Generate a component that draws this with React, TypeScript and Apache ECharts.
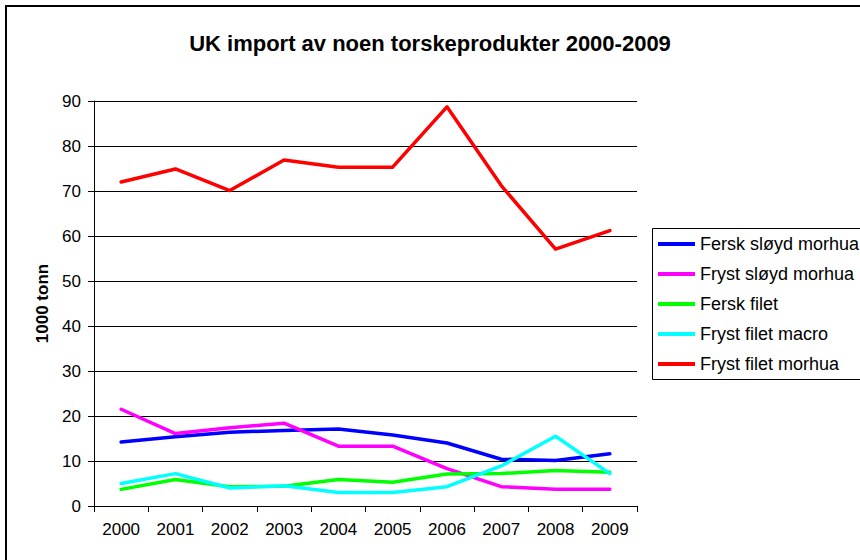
import React, { useEffect, useRef } from "react";
import * as echarts from "echarts";

const years = ["2000", "2001", "2002", "2003", "2004", "2005", "2006", "2007", "2008", "2009"];
const ferskSloydMorhua = [14.2, 15.4, 16.4, 16.8, 17.1, 15.8, 14.0, 10.4, 10.1, 11.6];
const frystSloydMorhua = [21.5, 16.1, 17.4, 18.4, 13.3, 13.3, 8.3, 4.3, 3.7, 3.7];
const ferskFilet = [3.7, 5.9, 4.3, 4.4, 5.9, 5.3, 7.1, 7.2, 7.9, 7.5];
const frystFiletMacro = [5.0, 7.2, 4.0, 4.5, 3.0, 3.0, 4.3, 8.9, 15.5, 7.2];
const frystFiletMorhua = [72.0, 74.9, 70.1, 76.9, 75.3, 75.3, 88.7, 71.2, 57.1, 61.2];

const seriesNames = ["Fersk sløyd morhua", "Fryst sløyd morhua", "Fersk filet", "Fryst filet macro", "Fryst filet morhua"];
const seriesColors = ["#0000FF", "#FF00FF", "#00FF00", "#00FFFF", "#FF0000"];
const seriesData = [ferskSloydMorhua, frystSloydMorhua, ferskFilet, frystFiletMacro, frystFiletMorhua];

const FONT = "'Liberation Sans', Arial, sans-serif";

export default function App() {
  const ref = useRef<HTMLDivElement>(null);
  useEffect(() => {
    if (!ref.current) return;
    const chart = echarts.init(ref.current, undefined, { renderer: "svg" });
    chart.setOption({
      animation: false,
      backgroundColor: "#ffffff",
      textStyle: { fontFamily: FONT },
      title: {
        text: "UK import av noen torskeprodukter 2000-2009",
        left: "center",
        top: 27,
        textStyle: { fontFamily: FONT, fontSize: 22, fontWeight: "bold", color: "#000" },
      },
      graphic: [
        {
          type: "rect",
          shape: { x: 6, y: 6, width: 900, height: 600 },
          style: { fill: "none", stroke: "#000", lineWidth: 2 },
          z: -10,
        },
        {
          type: "rect",
          shape: { x: 652.5, y: 228.5, width: 300, height: 151 },
          style: { fill: "#fff", stroke: "#000", lineWidth: 1 },
          z: -5,
        },
      ],
      legend: {
        orient: "vertical",
        left: 653,
        top: 228,
        padding: [7, 0, 6, 5],
        itemGap: 12,
        itemWidth: 37,
        itemHeight: 4,
        icon: "rect",
        textStyle: { fontFamily: FONT, fontSize: 18, color: "#000" },
        data: seriesNames,
      },
      grid: { left: 94, right: 223, top: 101, bottom: 54, containLabel: false },
      xAxis: {
        type: "category",
        data: years,
        boundaryGap: true,
        axisLine: { lineStyle: { color: "#000", width: 1 } },
        axisTick: { show: true, length: 6, inside: false, alignWithLabel: false, lineStyle: { color: "#000" } },
        axisLabel: { fontFamily: FONT, fontSize: 17, color: "#000", margin: 15, interval: 0 },
        splitLine: { show: false },
      },
      yAxis: {
        type: "value",
        min: 0,
        max: 90,
        interval: 10,
        name: "1000 tonn",
        nameLocation: "middle",
        nameRotate: 90,
        nameGap: 41,
        nameTextStyle: { fontFamily: FONT, fontSize: 17, fontWeight: "bold", color: "#000" },
        axisLine: { show: true, lineStyle: { color: "#000", width: 1 } },
        axisTick: { show: true, length: 6, lineStyle: { color: "#000" } },
        axisLabel: { fontFamily: FONT, fontSize: 17, color: "#000", margin: 13 },
        splitLine: { show: true, lineStyle: { color: "#000", width: 1 } },
      },
      series: seriesNames.map((name, i) => ({
        name,
        type: "line",
        data: seriesData[i],
        symbol: "none",
        color: seriesColors[i],
        lineStyle: { color: seriesColors[i], width: 3.5, cap: "round", join: "round" },
        itemStyle: { color: seriesColors[i] },
      })),
    });
    return () => chart.dispose();
  }, []);
  return <div ref={ref} style={{ position: "fixed", left: 0, top: 0, width: 860, height: 560 }} />;
}
